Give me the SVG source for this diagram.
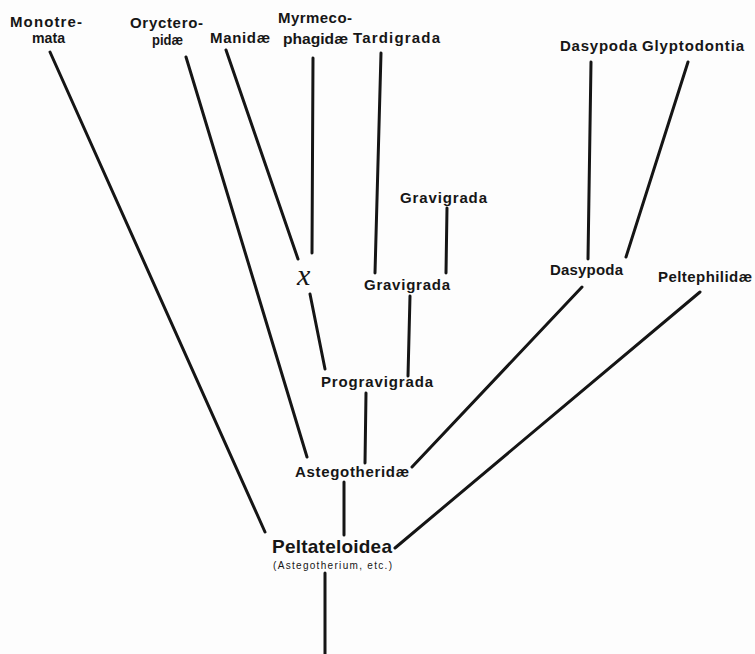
<svg xmlns="http://www.w3.org/2000/svg" width="755" height="654" viewBox="0 0 755 654">
<style>
.t{font-family:"Liberation Sans",Arial,sans-serif;font-weight:bold;font-size:15px;fill:#161616}
.big{font-size:19px}
.sm{font-size:10px;font-weight:normal}
.x{font-family:"Liberation Serif","Times New Roman",serif;font-style:italic;font-size:30px;fill:#161616}
.c line{stroke:#151515;stroke-width:3;stroke-linecap:round}
</style>
<rect width="755" height="654" fill="#fdfdfd"/>
<g class="c" id="connectors">
<line x1="50" y1="52" x2="265" y2="532"/>
<line x1="186" y1="57" x2="307" y2="457"/>
<line x1="226" y1="50" x2="298" y2="259"/>
<line x1="313" y1="58" x2="312" y2="253"/>
<line x1="310" y1="294" x2="325" y2="369"/>
<line x1="381" y1="53" x2="375" y2="273"/>
<line x1="447" y1="208" x2="446" y2="273"/>
<line x1="410" y1="296" x2="408" y2="376"/>
<line x1="366" y1="393" x2="365" y2="463"/>
<line x1="591" y1="62" x2="588" y2="259"/>
<line x1="688" y1="62" x2="626" y2="257"/>
<line x1="582" y1="287" x2="412" y2="467"/>
<line x1="700" y1="292" x2="395" y2="548"/>
<line x1="344" y1="482" x2="344" y2="535"/>
<line x1="325" y1="573" x2="325" y2="654"/>
</g>
<g id="monotremata"><text class="t" x="10" y="27" textLength="72">Monotre-</text><text class="t" x="32" y="43" textLength="33" lengthAdjust="spacingAndGlyphs">mata</text></g>
<g id="orycteropidae"><text class="t" x="130" y="28" textLength="73">Oryctero-</text><text class="t" x="152" y="45" textLength="31" lengthAdjust="spacingAndGlyphs">pidæ</text></g>
<g id="manidae"><text class="t" x="210" y="43" textLength="60">Manidæ</text></g>
<g id="myrmecophagidae"><text class="t" x="278" y="23" textLength="74">Myrmeco-</text><text class="t" x="283" y="44" textLength="65" lengthAdjust="spacingAndGlyphs">phagidæ</text></g>
<g id="tardigrada"><text class="t" x="353" y="43" textLength="87">Tardigrada</text></g>
<g id="dasypoda-top"><text class="t" x="560" y="51" textLength="77">Dasypoda</text></g>
<g id="glyptodontia"><text class="t" x="642" y="51" textLength="102">Glyptodontia</text></g>
<g id="gravigrada-top"><text class="t" x="400" y="203" textLength="87">Gravigrada</text></g>
<g id="x-node"><text class="x" x="297" y="285">x</text></g>
<g id="gravigrada"><text class="t" x="364" y="290" textLength="86">Gravigrada</text></g>
<g id="dasypoda"><text class="t" x="550" y="275" textLength="73">Dasypoda</text></g>
<g id="peltephilidae"><text class="t" x="658" y="282" textLength="94">Peltephilidæ</text></g>
<g id="progravigrada"><text class="t" x="321" y="387" textLength="112">Progravigrada</text></g>
<g id="astegotheridae"><text class="t" x="295" y="477" textLength="114">Astegotheridæ</text></g>
<g id="peltateloidea"><text class="t big" x="272" y="553" textLength="120">Peltateloidea</text><text class="t sm" x="273" y="569" textLength="119">(Astegotherium, etc.)</text></g>
</svg>
